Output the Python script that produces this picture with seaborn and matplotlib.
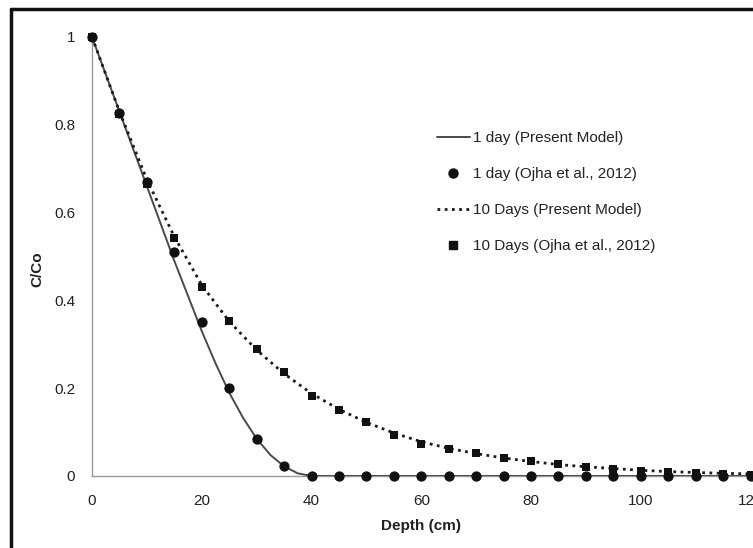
import matplotlib
matplotlib.use("Agg")
import matplotlib.pyplot as plt
import seaborn as sns
import pandas as pd
from matplotlib.lines import Line2D

# ---- data ----
line1_x = [0, 2.5, 5, 7.5, 10, 12.5, 15, 17.5, 20, 22.5, 25, 27.5, 30, 32.5, 35, 37.5, 40, 50, 60, 80, 100, 120]
line1_y = [1.0, 0.915, 0.83, 0.745, 0.66, 0.575, 0.49, 0.41, 0.33, 0.257, 0.19, 0.133, 0.085, 0.048, 0.022, 0.006, 0.0, 0.0, 0.0, 0.0, 0.0, 0.0]

pts1_x = [0, 5, 10, 15, 20, 25, 30, 35, 40, 45, 50, 55, 60, 65, 70, 75, 80, 85, 90, 95, 100, 105, 110, 115, 120]
pts1_y = [1.0, 0.827, 0.67, 0.51, 0.351, 0.2, 0.084, 0.023, 0, 0, 0, 0, 0, 0, 0, 0, 0, 0, 0, 0, 0, 0, 0, 0, 0]

line10_x = [0, 5, 10, 15, 20, 25, 30, 35, 40, 45, 50, 55, 60, 65, 70, 75, 80, 85, 90, 95, 100, 105, 110, 115, 120]
line10_y = [1.0, 0.83, 0.675, 0.545, 0.435, 0.352, 0.287, 0.233, 0.188, 0.152, 0.122, 0.098, 0.078, 0.063, 0.051, 0.041, 0.033, 0.026, 0.021, 0.017, 0.013, 0.010, 0.008, 0.006, 0.005]

pts10_x = [0, 5, 10, 15, 20, 25, 30, 35, 40, 45, 50, 55, 60, 65, 70, 75, 80, 85, 90, 95, 100, 105, 110, 115, 120]
pts10_y = [1.0, 0.825, 0.665, 0.542, 0.43, 0.353, 0.289, 0.237, 0.182, 0.150, 0.123, 0.093, 0.073, 0.061, 0.052, 0.041, 0.034, 0.027, 0.021, 0.016, 0.012, 0.010, 0.0075, 0.005, 0.003]

labels = ["1 day (Present Model)", "1 day (Ojha et al., 2012)",
          "10 Days (Present Model)", "10 Days (Ojha et al., 2012)"]
x_ticks = [0, 20, 40, 60, 80, 100, 120]
y_ticks = [0, 0.2, 0.4, 0.6, 0.8, 1]
y_ticklabels = ["0", "0.2", "0.4", "0.6", "0.8", "1"]

sns.set_style("white")
plt.rcParams['font.family'] = ['Liberation Sans', 'DejaVu Sans']

fig = plt.figure(figsize=(7.53, 5.48), dpi=100)
ax = fig.add_axes([0.1222, 0.1314, 0.8745, 0.8011])

df1 = pd.DataFrame({"x": line1_x, "y": line1_y})
df10 = pd.DataFrame({"x": line10_x, "y": line10_y})
p1 = pd.DataFrame({"x": pts1_x, "y": pts1_y})
p10 = pd.DataFrame({"x": pts10_x, "y": pts10_y})

sns.lineplot(data=df1, x="x", y="y", ax=ax, color="#4a4a4a", lw=1.4, zorder=3)
sns.lineplot(data=df10, x="x", y="y", ax=ax, color="#1a1a1a", lw=2.0,
             linestyle=(0, (1, 1.6)), zorder=3)
sns.scatterplot(data=p10, x="x", y="y", ax=ax, marker="s", s=40, color="#111111",
                edgecolor="#111111", linewidth=0, zorder=4, clip_on=False)
sns.scatterplot(data=p1, x="x", y="y", ax=ax, marker="o", s=55, color="#111111",
                edgecolor="#111111", linewidth=0, zorder=5, clip_on=False)

ax.set_xlim(0, 120)
ax.set_ylim(0, 1)
ax.set_xticks(x_ticks)
ax.set_yticks(y_ticks)
ax.set_yticklabels(y_ticklabels)
ax.tick_params(axis="both", length=0, labelsize=11, colors="#222222")
ax.tick_params(axis="x", pad=13)
ax.tick_params(axis="y", pad=12)

for s in ["top", "right"]:
    ax.spines[s].set_visible(False)
for s in ["left", "bottom"]:
    ax.spines[s].set_color("#999999")
    ax.spines[s].set_linewidth(1.0)
ax.grid(False)

ax.set_xlabel("Depth (cm)", fontsize=11, fontweight="bold", color="#222222")
ax.set_ylabel("C/Co", fontsize=11, fontweight="bold", color="#222222")
ax.xaxis.set_label_coords(0.5, -0.097)
ax.yaxis.set_label_coords(-0.072, 0.47)

handles = [
    Line2D([], [], color="#4a4a4a", lw=1.4),
    Line2D([], [], color="#111111", marker="o", ms=6.5, lw=0),
    Line2D([], [], color="#1a1a1a", lw=2.0, linestyle=(0, (1, 1.6))),
    Line2D([], [], color="#111111", marker="s", ms=5.5, lw=0),
]
leg = ax.legend(handles, labels, loc="upper left", bbox_to_anchor=(0.514, 0.80),
                frameon=False, fontsize=11, handlelength=2.2, handletextpad=0.2,
                labelspacing=1.45, borderaxespad=0)
for t in leg.get_texts():
    t.set_color("#222222")

# figure frame (cropped original: only top and left borders visible)
fig.add_artist(Line2D([0.014, 1.0], [0.9835, 0.9835], transform=fig.transFigure,
                      color="#111111", lw=2.5))
fig.add_artist(Line2D([0.014, 0.014], [0.0, 0.9835], transform=fig.transFigure,
                      color="#111111", lw=2.5))

fig.savefig("out.png", dpi=100)
